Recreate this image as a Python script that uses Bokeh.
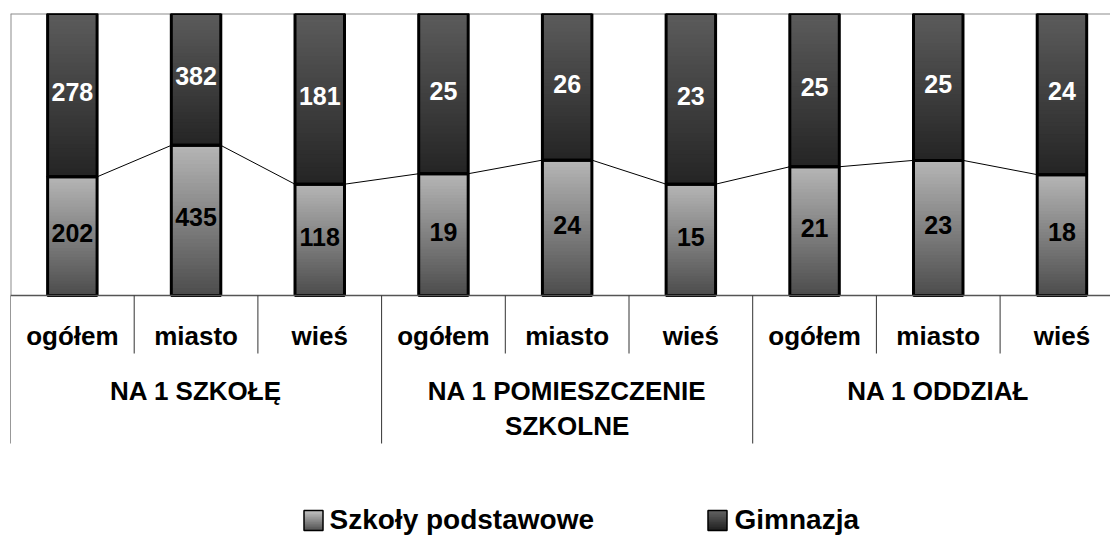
from bokeh.plotting import figure
from bokeh.models import Range1d, ColumnDataSource
from bokeh.core.properties import value
from bokeh.embed import file_html
from bokeh.resources import INLINE

# ---------------- data ----------------
sub_labels = ["ogółem", "miasto", "wieś", "ogółem", "miasto", "wieś", "ogółem", "miasto", "wieś"]
group_labels = ["NA 1 SZKOŁĘ", "NA 1 POMIESZCZENIE\nSZKOLNE", "NA 1 ODDZIAŁ"]
group_size = 3
podstawowe = [202, 435, 118, 19, 24, 15, 21, 23, 18]
gimnazja = [278, 382, 181, 25, 26, 23, 25, 25, 24]
series_names = ["Szkoły podstawowe", "Gimnazja"]

# ---------------- layout helpers ----------------
FONT = "Liberation Sans"
W, H = 1110, 535
LEFT, TOP = 10, 13
PX_PER_PCT = 2.82  # pixels per percent on the bar scale
CAT_PX = 123.7     # pixels per category
FRAME_W = W - LEFT
FRAME_H = H - TOP
x_end = FRAME_W / CAT_PX
y_start = 100 - FRAME_H / PX_PER_PCT

def ypg(page_y):
    """page pixel y -> data y"""
    return 100 - (page_y - TOP) / PX_PER_PCT

def xpg(page_x):
    return (page_x - LEFT) / CAT_PX

n = len(podstawowe)
xs = [i + 0.5 for i in range(n)]
tot = [a + b for a, b in zip(podstawowe, gimnazja)]
pct_p = [a / t * 100 for a, t in zip(podstawowe, tot)]

p = figure(width=W, height=H, x_range=Range1d(0, x_end), y_range=Range1d(y_start, 100),
           output_backend="svg", toolbar_location=None, x_axis_type=None, y_axis_type=None,
           min_border_left=LEFT, min_border_right=0, min_border_top=TOP, min_border_bottom=0)
p.outline_line_color = None
p.grid.visible = False
p.background_fill_color = "white"
p.border_fill_color = "white"

BAR_W = 0.40

PODST_COLORS = ("#4c4c4c", "#b6b6b6")   # bottom, top
GIMN_COLORS = ("#242424", "#5c5c5c")

def hex2rgb(h):
    h = h.lstrip("#")
    return [int(h[i:i + 2], 16) for i in (0, 2, 4)]

def lerp(c0, c1, t):
    a, b = hex2rgb(c0), hex2rgb(c1)
    return "#%02x%02x%02x" % tuple(int(round(a[k] + (b[k] - a[k]) * t)) for k in range(3))

def gradient_bars(xpos, bottoms, tops, colors, width, N=40):
    # each slice reaches the segment top; later (higher) slices paint over
    c_bottom, c_top = colors
    xx, bb, tt, cc = [], [], [], []
    for k in range(N):
        for x, y0, y1 in zip(xpos, bottoms, tops):
            xx.append(x)
            bb.append(y0 + (y1 - y0) * k / N)
            tt.append(y1)
            cc.append(lerp(c_bottom, c_top, (k + 0.5) / N))
    src = ColumnDataSource(dict(x=xx, bottom=bb, top=tt, color=cc))
    p.vbar(x="x", bottom="bottom", top="top", width=width, source=src,
           fill_color="color", line_color=None)

# plot-area frame lines
p.segment(x0=[0], y0=[100], x1=[x_end], y1=[100], line_color="#8c8c8c", line_width=2)
p.segment(x0=[0], y0=[0], x1=[0], y1=[100], line_color="#8c8c8c", line_width=2)

# bars with gradients
gradient_bars(xs, [0] * n, pct_p, PODST_COLORS, BAR_W)
gradient_bars(xs, pct_p, [100] * n, GIMN_COLORS, BAR_W)
p.vbar(x=xs, bottom=[0] * n, top=pct_p, width=BAR_W, fill_alpha=0, line_color="black", line_width=3)
p.vbar(x=xs, bottom=pct_p, top=[100] * n, width=BAR_W, fill_alpha=0, line_color="black", line_width=3)

# series lines between bars
p.segment(x0=[x + BAR_W / 2 for x in xs[:-1]], y0=pct_p[:-1],
          x1=[x - BAR_W / 2 for x in xs[1:]], y1=pct_p[1:], line_color="black", line_width=1)

# data labels (small upward nudge of ~3px)
nudge = 3 / PX_PER_PCT
p.text(x=xs, y=[v / 2 + nudge for v in pct_p], text=[str(v) for v in podstawowe],
       text_font=value(FONT), text_font_style="bold", text_font_size="25px",
       text_color="black", text_align="center", text_baseline="middle")
p.text(x=xs, y=[(v + 100) / 2 + nudge for v in pct_p], text=[str(v) for v in gimnazja],
       text_font=value(FONT), text_font_style="bold", text_font_size="25px",
       text_color="white", text_align="center", text_baseline="middle")

# category axis (two levels)
p.segment(x0=[0], y0=[0], x1=[x_end], y1=[0], line_color="#555555", line_width=1.5)
sub_sep = [i for i in range(1, n) if i % group_size != 0]
p.segment(x0=sub_sep, y0=[0] * len(sub_sep), x1=sub_sep, y1=[ypg(353)] * len(sub_sep),
          line_color="#333333", line_width=1)
grp_sep = [i for i in range(0, n + 1, group_size)]
p.segment(x0=grp_sep, y0=[0] * len(grp_sep), x1=grp_sep, y1=[ypg(443)] * len(grp_sep),
          line_color="#333333", line_width=1)

p.text(x=xs, y=[ypg(335)] * n, text=sub_labels, text_font=value(FONT), text_font_style="bold",
       text_font_size="26px", text_color="black", text_align="center", text_baseline="alphabetic")

gx, gy, gt = [], [], []
for gi, g in enumerate(group_labels):
    for li, line in enumerate(g.split("\n")):
        gx.append(gi * group_size + group_size / 2)
        gy.append(ypg(390 + li * 35))
        gt.append(line)
p.text(x=gx, y=gy, text=gt, text_font=value(FONT), text_font_style="bold",
       text_font_size="26px", text_color="black", text_align="center", text_baseline="alphabetic")

# legend (manual, gradient squares)
leg_sq_x = [xpg(313), xpg(717)]
leg_tx_x = [xpg(329), xpg(734)]
sq_w = 19 / CAT_PX
sq_b, sq_t = ypg(530), ypg(510)
gradient_bars([leg_sq_x[0]], [sq_b], [sq_t], ("#505050", "#c4c4c4"), sq_w, N=12)
gradient_bars([leg_sq_x[1]], [sq_b], [sq_t], ("#1e1e1e", "#646464"), sq_w, N=12)
p.vbar(x=leg_sq_x, bottom=[sq_b] * 2, top=[sq_t] * 2, width=sq_w, fill_alpha=0,
       line_color="black", line_width=1.5)
p.text(x=leg_tx_x, y=[ypg(519)] * 2, text=series_names, text_font=value(FONT),
       text_font_style="bold", text_font_size="28px", text_color="black",
       text_align="left", text_baseline="alphabetic")

open("out.html", "w").write(file_html(p, INLINE))
